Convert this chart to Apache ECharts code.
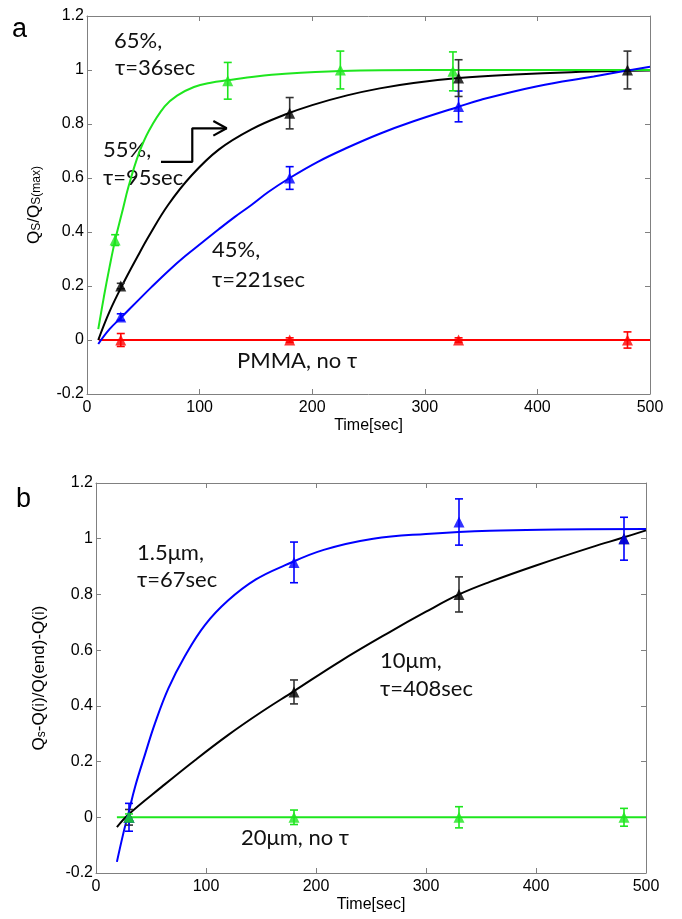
<!DOCTYPE html>
<html>
<head>
<meta charset="utf-8">
<script src="https://cdn.jsdelivr.net/npm/echarts@6/dist/echarts.min.js"></script>
<style>
html,body{margin:0;padding:0;background:#fff;}
#c{width:682px;height:919px;}
</style>
</head>
<body>
<div id="c"></div>
<script>
// ---------- Panel a data ----------
const X_TICKS = [0, 100, 200, 300, 400, 500];
const Y_TICKS = [-0.2, 0, 0.2, 0.4, 0.6, 0.8, 1, 1.2];

// fitted curves
const A_GREEN_FIT_T = [10, 15, 20, 25, 31, 37, 46, 55, 69, 80, 95, 110, 125, 150, 176, 225, 300, 400, 500];
const A_GREEN_FIT_Y = [0.04, 0.16, 0.27, 0.37, 0.47, 0.57, 0.69, 0.775, 0.865, 0.905, 0.937, 0.953, 0.962, 0.976, 0.986, 0.996, 1.0, 1.0, 1.0];
const A_BLACK_FIT_T = [10, 20, 31, 45, 55, 72, 93, 117, 146, 176, 200, 231, 260, 290, 330, 380, 430, 480, 500];
const A_BLACK_FIT_Y = [0.0, 0.105, 0.2, 0.31, 0.385, 0.5, 0.61, 0.705, 0.78, 0.835, 0.87, 0.906, 0.932, 0.952, 0.97, 0.983, 0.992, 0.997, 0.998];
const A_BLUE_FIT_T = [10, 20, 31, 45, 57, 72, 87, 102, 117, 131, 146, 161, 180, 205, 231, 260, 290, 330, 350, 400, 450, 477, 500];
const A_BLUE_FIT_Y = [-0.015, 0.04, 0.086, 0.145, 0.195, 0.255, 0.31, 0.36, 0.41, 0.455, 0.50, 0.548, 0.60, 0.66, 0.712, 0.764, 0.81, 0.864, 0.89, 0.94, 0.976, 0.996, 1.012];
const A_RED_FIT_T = [10.5, 500];
const A_RED_FIT_Y = [0, 0];

// measured points with error bars
const A_GREEN_T = [25, 125, 225, 325];
const A_GREEN_Y = [0.37, 0.96, 1.0, 0.995];
const A_GREEN_E = [0.02, 0.068, 0.07, 0.072];
const A_BLACK_T = [30, 180, 330, 480];
const A_BLACK_Y = [0.2, 0.84, 0.97, 1.0];
const A_BLACK_E = [0.01, 0.058, 0.068, 0.07];
const A_BLUE_T = [30, 180, 330];
const A_BLUE_Y = [0.085, 0.60, 0.865];
const A_BLUE_E = [0.012, 0.042, 0.057];
const A_RED_T = [30, 180, 330, 480];
const A_RED_Y = [0, 0, 0, 0];
const A_RED_E = [0.024, 0.008, 0.008, 0.03];

// step arrow annotation (data coordinates)
const ARROW_T = [65.7, 93.5, 93.5, 124];
const ARROW_Y = [0.66, 0.66, 0.784, 0.784];
const ARROW_HEAD_T = [112.2, 124, 112.2];
const ARROW_HEAD_Y = [0.811, 0.784, 0.757];

// ---------- Panel b data ----------
const B_BLUE_FIT_T = [19, 25, 29.4, 35.5, 44.5, 53.6, 65.7, 81, 99, 120, 145, 172, 207, 252, 300, 358, 420, 500];
const B_BLUE_FIT_Y = [-0.16, -0.055, 0.013, 0.109, 0.225, 0.337, 0.462, 0.58, 0.69, 0.778, 0.853, 0.905, 0.96, 1.0, 1.017, 1.029, 1.033, 1.035];
const B_BLACK_FIT_T = [19, 30, 60, 90, 120, 150, 180, 222, 267, 300, 330, 358, 400, 450, 480, 500];
const B_BLACK_FIT_Y = [-0.035, 0.012, 0.11, 0.205, 0.295, 0.377, 0.453, 0.56, 0.665, 0.738, 0.80, 0.845, 0.904, 0.969, 1.005, 1.03];
const B_GREEN_FIT_T = [19, 500];
const B_GREEN_FIT_Y = [0, 0];

const B_BLUE_T = [30, 180, 330, 480];
const B_BLUE_Y = [0.0, 0.915, 1.06, 1.0];
const B_BLUE_E = [0.05, 0.073, 0.083, 0.077];
const B_BLACK_T = [30, 180, 330, 480];
const B_BLACK_Y = [0.0, 0.45, 0.80, 1.0];
const B_BLACK_E = [0.028, 0.043, 0.063, 0.0];
const B_GREEN_T = [30, 180, 330, 480];
const B_GREEN_Y = [0, 0, 0, 0];
const B_GREEN_E = [0.012, 0.026, 0.038, 0.032];

// ---------- helpers ----------
const zip2 = (a, b) => a.map((v, i) => [v, b[i]]);
const zip3 = (a, b, c) => a.map((v, i) => [v, b[i], c[i]]);

const GREEN = '#1ee61e', BLUE = '#0000ff', RED = '#ff0000', BLACK = '#000000', EBLACK = '#333333';
const AXIS_GRAY = '#808080';
const FONT = 'Liberation Sans, Arial, sans-serif';

function fit(xi, yi, t, y, color) {
  return {
    type: 'line', xAxisIndex: xi, yAxisIndex: yi, data: zip2(t, y),
    smooth: 0.4, symbol: 'none',
    lineStyle: { color: color, width: 2 }, z: 3, silent: true
  };
}
function markers(xi, yi, t, y, color) {
  return {
    type: 'scatter', xAxisIndex: xi, yAxisIndex: yi, data: zip2(t, y),
    symbol: 'triangle', symbolSize: [11, 11], itemStyle: { color: color }, z: 5, silent: true
  };
}
function errbars(xi, yi, t, y, e, color) {
  return {
    type: 'custom', xAxisIndex: xi, yAxisIndex: yi, data: zip3(t, y, e), z: 4, silent: true,
    renderItem: function (params, api) {
      const x = api.value(0), v = api.value(1), err = api.value(2);
      if (!err) return null;
      const top = api.coord([x, v + err]);
      const bot = api.coord([x, v - err]);
      const w = 4;
      const st = { stroke: color, lineWidth: 1.6 };
      return {
        type: 'group', children: [
          { type: 'line', shape: { x1: top[0], y1: top[1], x2: bot[0], y2: bot[1] }, style: st },
          { type: 'line', shape: { x1: top[0] - w, y1: top[1], x2: top[0] + w, y2: top[1] }, style: st },
          { type: 'line', shape: { x1: bot[0] - w, y1: bot[1], x2: bot[0] + w, y2: bot[1] }, style: st }
        ]
      };
    }
  };
}

function xAxes(gi, name) {
  const common = {
    type: 'value', gridIndex: gi, min: X_TICKS[0], max: X_TICKS[X_TICKS.length - 1], interval: 100,
    axisLine: { show: true, onZero: false, lineStyle: { color: AXIS_GRAY, width: 1 } },
    axisTick: { show: true, inside: true, length: 5, lineStyle: { color: AXIS_GRAY } },
    splitLine: { show: false }
  };
  return [
    Object.assign({}, common, {
      position: 'bottom', name: name, nameLocation: 'middle', nameGap: 24,
      nameTextStyle: { fontFamily: FONT, fontSize: 16, color: '#000' },
      axisLabel: { fontFamily: FONT, fontSize: 16, color: '#000', margin: 6 }
    }),
    Object.assign({}, common, { position: 'top', axisLabel: { show: false } })
  ];
}
function yAxes(gi, name, gap) {
  const common = {
    type: 'value', gridIndex: gi, min: Y_TICKS[0], max: Y_TICKS[Y_TICKS.length - 1], interval: 0.2,
    axisLine: { show: true, onZero: false, lineStyle: { color: AXIS_GRAY, width: 1 } },
    axisTick: { show: true, inside: true, length: 5, lineStyle: { color: AXIS_GRAY } },
    splitLine: { show: false }
  };
  return [
    Object.assign({}, common, {
      position: 'left', name: name, nameLocation: 'middle', nameGap: gap, nameRotate: 90,
      nameTextStyle: {
        fontFamily: FONT, fontSize: 17, color: '#000',
        rich: { s: { fontFamily: FONT, fontSize: 12, color: '#000', verticalAlign: 'bottom', padding: [6, 0, 0, 0] } }
      },
      axisLabel: {
        fontFamily: FONT, fontSize: 16, color: '#000', margin: 3,
        formatter: v => String(Math.round(v * 10) / 10)
      }
    }),
    Object.assign({}, common, { position: 'right', axisLabel: { show: false } })
  ];
}

const chart = echarts.init(document.getElementById('c'), null, { renderer: 'canvas' });

const txt = (x, y, s, size) => ({
  type: 'text', x: x, y: y, silent: true,
  style: { text: s, fontFamily: 'Lato, sans-serif', fontSize: size || 22, fill: '#111', textVerticalAlign: 'middle' }
});

const option = {
  animation: false,
  backgroundColor: '#fff',
  grid: [
    { left: 87, right: 32, top: 16, height: 378, containLabel: false },
    { left: 96, right: 36, top: 483, height: 390, containLabel: false }
  ],
  xAxis: [].concat(xAxes(0, 'Time[sec]'), xAxes(1, 'Time[sec]')),
  yAxis: [].concat(
    yAxes(0, 'Q{s|S}/Q{s|S(max)}', 44),
    yAxes(1, 'Q{s|s}-Q(i)/Q(end)-Q(i)', 48)
  ),
  series: [
    // panel a
    fit(0, 0, A_RED_FIT_T, A_RED_FIT_Y, RED),
    fit(0, 0, A_BLACK_FIT_T, A_BLACK_FIT_Y, BLACK),
    fit(0, 0, A_GREEN_FIT_T, A_GREEN_FIT_Y, GREEN),
    fit(0, 0, A_BLUE_FIT_T, A_BLUE_FIT_Y, BLUE),
    errbars(0, 0, A_RED_T, A_RED_Y, A_RED_E, RED),
    errbars(0, 0, A_BLUE_T, A_BLUE_Y, A_BLUE_E, BLUE),
    errbars(0, 0, A_GREEN_T, A_GREEN_Y, A_GREEN_E, GREEN),
    errbars(0, 0, A_BLACK_T, A_BLACK_Y, A_BLACK_E, EBLACK),
    markers(0, 0, A_RED_T, A_RED_Y, RED),
    markers(0, 0, A_BLUE_T, A_BLUE_Y, BLUE),
    markers(0, 0, A_GREEN_T, A_GREEN_Y, GREEN),
    markers(0, 0, A_BLACK_T, A_BLACK_Y, BLACK),
    {
      type: 'line', xAxisIndex: 0, yAxisIndex: 0, data: zip2(ARROW_T, ARROW_Y), symbol: 'none',
      lineStyle: { color: '#000', width: 2.2 }, z: 6, silent: true
    },
    {
      type: 'line', xAxisIndex: 0, yAxisIndex: 0, data: zip2(ARROW_HEAD_T, ARROW_HEAD_Y), symbol: 'none',
      lineStyle: { color: '#000', width: 2.2 }, z: 6, silent: true
    },
    // panel b
    fit(2, 2, B_GREEN_FIT_T, B_GREEN_FIT_Y, GREEN),
    fit(2, 2, B_BLACK_FIT_T, B_BLACK_FIT_Y, BLACK),
    fit(2, 2, B_BLUE_FIT_T, B_BLUE_FIT_Y, BLUE),
    errbars(2, 2, B_BLACK_T, B_BLACK_Y, B_BLACK_E, EBLACK),
    errbars(2, 2, B_BLUE_T, B_BLUE_Y, B_BLUE_E, BLUE),
    errbars(2, 2, B_GREEN_T, B_GREEN_Y, B_GREEN_E, GREEN),
    markers(2, 2, B_BLACK_T, B_BLACK_Y, BLACK),
    markers(2, 2, B_BLUE_T, B_BLUE_Y, BLUE),
    markers(2, 2, B_GREEN_T, B_GREEN_Y, GREEN)
  ],
  graphic: [
    { type: 'text', x: 12, y: 30, silent: true, style: { text: 'a', fontFamily: FONT, fontSize: 27, fill: '#000', textVerticalAlign: 'middle' } },
    { type: 'text', x: 16, y: 500, silent: true, style: { text: 'b', fontFamily: FONT, fontSize: 27, fill: '#000', textVerticalAlign: 'middle' } },
    txt(114, 41, '65%,'),
    txt(115, 68, 'τ=36sec'),
    txt(103, 150, '55%,'),
    txt(103, 178, 'τ=95sec'),
    txt(212, 250, '45%,'),
    txt(212, 280, 'τ=221sec'),
    txt(237, 361, 'PMMA, no τ'),
    txt(137, 553, '1.5μm,'),
    txt(137, 580, 'τ=67sec'),
    txt(380, 661, '10μm,'),
    txt(380, 689, 'τ=408sec'),
    txt(241, 838, '20μm, no τ')
  ]
};
chart.setOption(option);
</script>
</body>
</html>
